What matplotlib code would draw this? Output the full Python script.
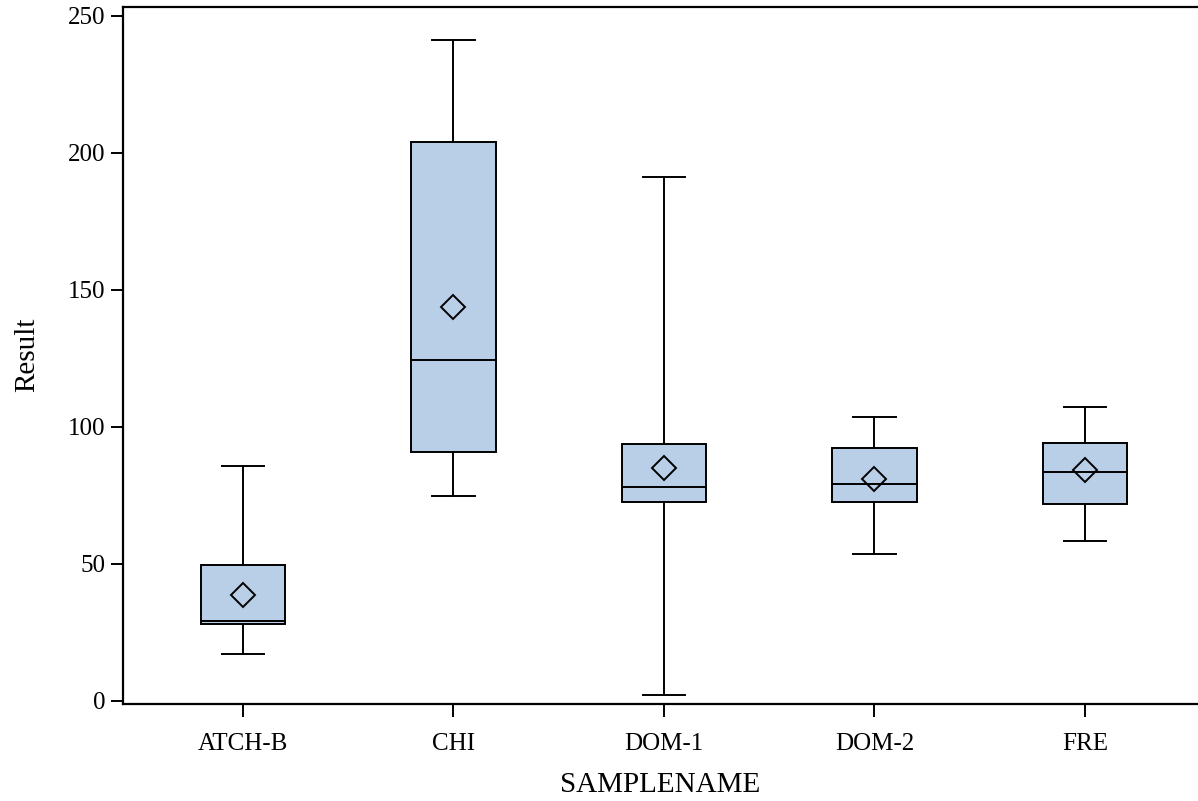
import matplotlib
matplotlib.use("Agg")
import matplotlib.pyplot as plt

plt.rcParams['font.family'] = ['Liberation Serif', 'DejaVu Serif']

# values
samples = ['ATCH-B', 'CHI', 'DOM-1', 'DOM-2', 'FRE']
whislo = [17.2, 74.8, 2.3, 53.8, 58.4]
q1 = [28.1, 90.9, 72.6, 72.6, 71.9]
med = [29.2, 124.5, 78.1, 79.3, 83.6]
q3 = [49.6, 204.0, 93.8, 92.2, 94.3]
whishi = [85.8, 241.2, 191.2, 103.8, 107.2]
means = [38.7, 143.8, 84.9, 80.9, 84.3]
yticks = [0, 50, 100, 150, 200, 250]

stats = []
for i, name in enumerate(samples):
    stats.append(dict(label=name, whislo=whislo[i], q1=q1[i], med=med[i],
                      q3=q3[i], whishi=whishi[i], mean=means[i], fliers=[]))

fig = plt.figure(figsize=(11.98, 8.01), dpi=100)
ax = fig.add_axes([123/1198, 1-704/801, 1-123/1198, (704-6.6)/801])

ax.bxp(stats, positions=range(len(samples)), widths=0.40, patch_artist=True,
       showmeans=True, showfliers=False,
       boxprops=dict(facecolor='#b9cfe7', edgecolor='black', linewidth=1.4),
       medianprops=dict(color='black', linewidth=1.4),
       whiskerprops=dict(color='black', linewidth=1.4),
       capprops=dict(color='black', linewidth=1.4),
       capwidths=0.2,
       meanprops=dict(marker='D', markerfacecolor='none', markeredgecolor='black',
                      markersize=12, markeredgewidth=1.4))

ax.set_xlim(-0.57, 4.537)
ax.set_ylim(-1.1, 253.4)
ax.set_yticks(yticks)
ax.set_xticks(range(len(samples)))
ax.set_xticklabels(samples)
ax.tick_params(axis='both', labelsize=18, length=9, width=1.4, direction='out')
ax.tick_params(axis='x', pad=12)
for s in ax.spines.values():
    s.set_linewidth(1.6)
ax.spines['right'].set_visible(False)
ax.set_xlabel('SAMPLENAME', fontsize=21, labelpad=12)
ax.set_ylabel('Result', fontsize=21, labelpad=20)

fig.savefig('out.png', dpi=100)
